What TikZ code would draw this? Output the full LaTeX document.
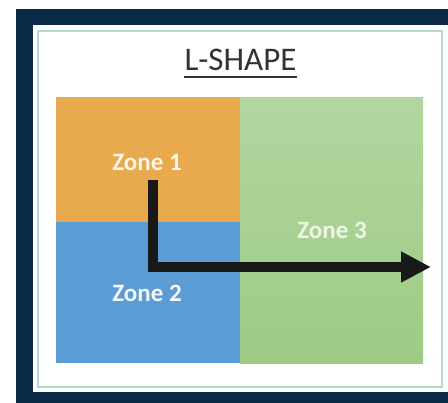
\documentclass[tikz,border=0pt]{standalone}
\usepackage{fontspec}
\setmainfont{Carlito}
\usetikzlibrary{positioning,arrows.meta}
\definecolor{navy}{HTML}{0B2A47}
\definecolor{zoneorange}{HTML}{E9A94F}
\definecolor{zoneblue}{HTML}{5B9BD6}
\definecolor{zonegreenTop}{HTML}{B2D6A0}
\definecolor{zonegreenBot}{HTML}{9DCB84}
\definecolor{panelline}{HTML}{B5D9CF}

\begin{document}
\begin{tikzpicture}[x=1pt, y=-1pt,
    zoneBox/.style={rectangle, draw=none, inner sep=0pt, anchor=north west},
    zoneLabel/.style={font=\bfseries\fontsize{25}{28}\selectfont, inner sep=0pt},
    titleText/.style={font=\fontsize{33}{36}\selectfont, text=black!80, inner sep=0pt, anchor=base}
]
    \useasboundingbox (0,0) rectangle (448,403);
    \fill[white] (0,0) rectangle (448,403);
    \fill[navy] (16,9) rectangle (448,403);
    \fill[white] (33,25) rectangle (448,392);
    \draw[panelline, line width=1.8pt] (38,31) rectangle (442,387);

    % title
    \node[titleText] (title) at (240.5,71) {L-SHAPE};
    \draw[black!80, line width=1.6pt] ([yshift=-6pt]title.base west) -- ([yshift=-6pt]title.base east);

    % zones
    \node[zoneBox, fill=zoneorange, minimum width=184pt, minimum height=125pt] (zone1) at (56,97) {};
    \node[zoneBox, fill=zoneblue, minimum width=184pt, minimum height=141pt] (zone2) at (56,222) {};
    \node[zoneBox, top color=zonegreenTop, bottom color=zonegreenBot, minimum width=183pt, minimum height=266pt] (zone3) at (240,97) {};

    \node[zoneLabel, text=white!88!zoneorange] (lab1) at (147,162) {Zone 1};
    \node[zoneLabel, text=white!92!zoneblue] (lab2) at (147,293) {Zone 2};
    \node[zoneLabel, text=white!78!zonegreenTop] (lab3) at (332,230) {Zone 3};

    % flow
    \coordinate (flowStart) at (153,180);
    \coordinate (flowEnd) at (431,267);
    \draw[line width=10pt, draw=black!90, -{Triangle[length=30pt, width=29pt]}] (flowStart) |- (flowEnd);
\end{tikzpicture}
\end{document}
